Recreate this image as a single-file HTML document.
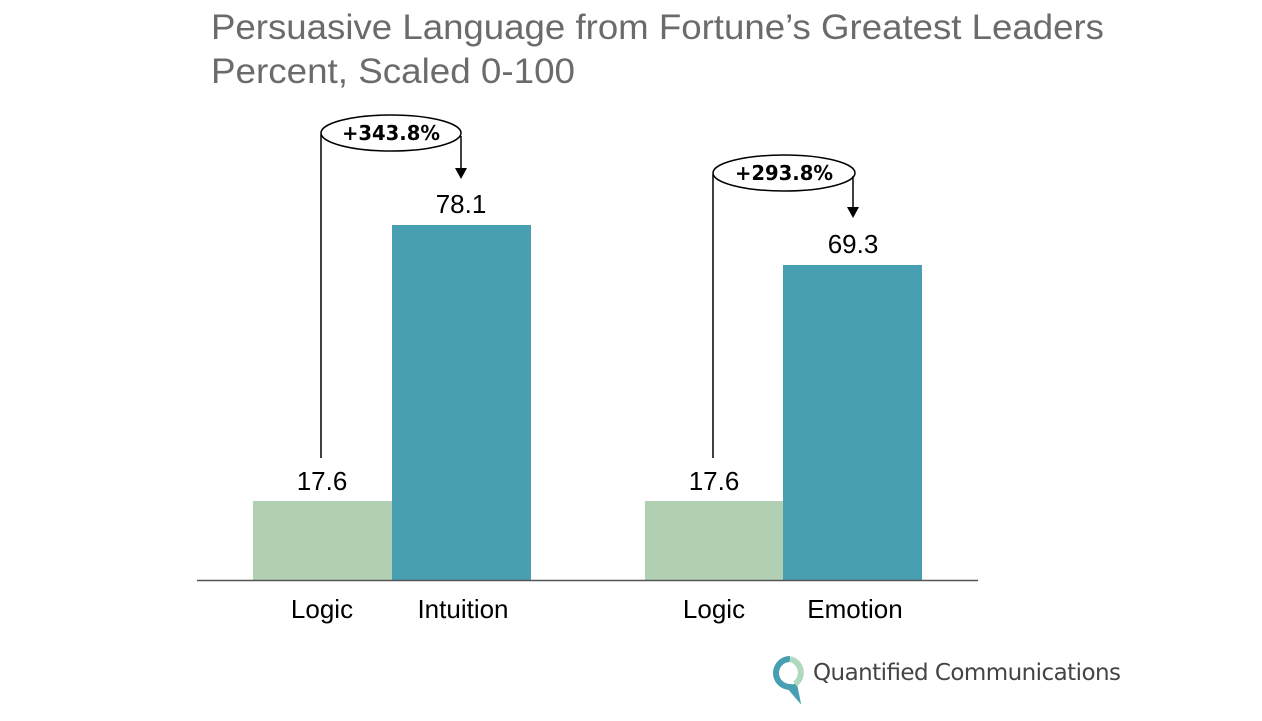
<!DOCTYPE html>
<html><head><style>body{margin:0;background:#fff}</style></head><body>
<svg width="1262" height="716" xmlns="http://www.w3.org/2000/svg" font-family="Liberation Sans, sans-serif">
<text x="211" y="39" font-size="35" fill="#6b6b6b" textLength="893" lengthAdjust="spacingAndGlyphs">Persuasive Language from Fortune’s Greatest Leaders</text>
<text x="211" y="83" font-size="35" fill="#6b6b6b" textLength="364" lengthAdjust="spacingAndGlyphs">Percent, Scaled 0-100</text>
<rect x="253" y="501" width="139" height="79" fill="#b0cfb3"/>
<rect x="392" y="225" width="139" height="355" fill="#489fb1"/>
<rect x="645" y="501" width="138" height="79" fill="#b0cfb3"/>
<rect x="783" y="265" width="139" height="315" fill="#489fb1"/>
<line x1="197" y1="580.5" x2="978" y2="580.5" stroke="#555" stroke-width="1.5"/>
<g font-size="26" fill="#000" text-anchor="middle">
<text x="322" y="490">17.6</text><text x="461" y="213">78.1</text>
<text x="714" y="490">17.6</text><text x="853" y="253">69.3</text>
<text x="322" y="618">Logic</text><text x="463" y="618">Intuition</text>
<text x="714" y="618">Logic</text><text x="855" y="618">Emotion</text>
</g>
<g stroke="#000" stroke-width="1.5" fill="none">
<ellipse cx="391" cy="133" rx="70" ry="18" fill="#fff"/>
<line x1="321" y1="134" x2="321" y2="458"/>
<line x1="461" y1="136" x2="461" y2="170"/>
<ellipse cx="784" cy="173" rx="71" ry="18" fill="#fff"/>
<line x1="713" y1="174" x2="713" y2="458"/>
<line x1="853" y1="176" x2="853" y2="210"/>
</g>
<polygon points="455,168 467,168 461,179" fill="#000"/>
<polygon points="847,207 859,207 853,218" fill="#000"/>
<g font-size="20" font-weight="bold" text-anchor="middle" font-family="DejaVu Sans, sans-serif">
<text x="391" y="140" textLength="98" lengthAdjust="spacingAndGlyphs">+343.8%</text><text x="784" y="180" textLength="98" lengthAdjust="spacingAndGlyphs">+293.8%</text>
</g>
<path d="M790 659 A14 14 0 1 0 790 687 L796 694 L794 684" fill="none" stroke="#489fb1" stroke-width="6"/>
<path d="M790 659 A14 14 0 0 1 795 684" fill="none" stroke="#b0d9bd" stroke-width="6"/>
<text x="813" y="680" font-size="23" fill="#444" font-family="DejaVu Sans, sans-serif" textLength="308">Quantified Communications</text>
</svg>
</body></html>
